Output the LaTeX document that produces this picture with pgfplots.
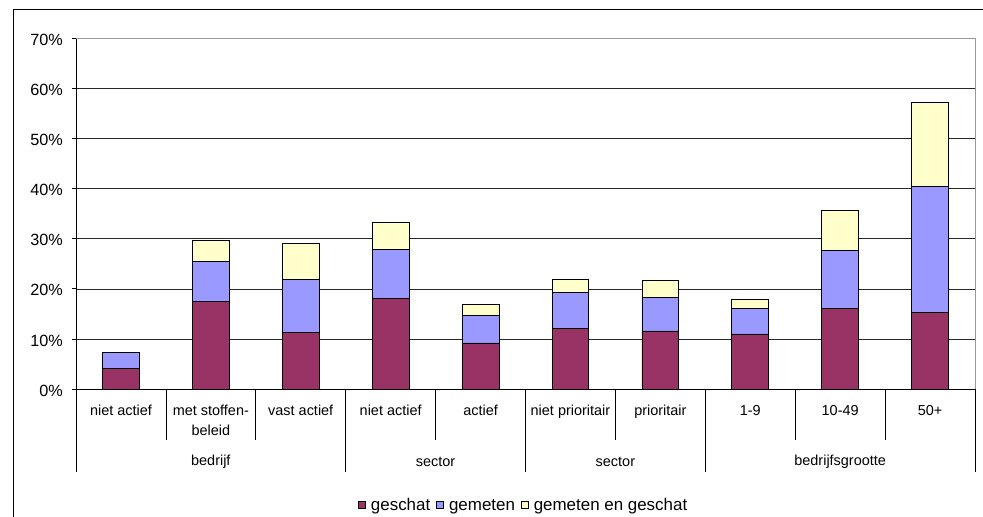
\documentclass[border=0pt]{standalone}
\usepackage{fontspec}
\setmainfont{Liberation Sans}
\usepackage{pgfplots}
\pgfplotsset{compat=1.18}
\definecolor{geschat}{HTML}{993366}
\definecolor{gemeten}{HTML}{9999FF}
\definecolor{beide}{HTML}{FFFFCC}
\begin{document}
\begin{tikzpicture}
\useasboundingbox (0,0) rectangle (983bp,517bp);
\draw[line width=1bp] (13bp,0) -- (13bp,507bp) -- (983bp,507bp);
\begin{axis}[
  at={(76bp,128bp)}, anchor=south west,
  width=899bp, height=350.5bp, scale only axis,
  ybar stacked, bar width=0.41,
  xmin=-0.5, xmax=9.5, ymin=0, ymax=70,
  xtick={0,...,9},
  xticklabels={niet actief,{met stoffen-\\beleid},vast actief,niet actief,actief,niet prioritair,prioritair,1-9,10-49,50+},
  x tick style={draw=none},
  xticklabel style={font=\fontsize{14.5}{20}\selectfont, align=center, anchor=north, inner sep=0pt, yshift=-12bp},
  ytick={0,10,...,70},
  yticklabels={0\%,10\%,20\%,30\%,40\%,50\%,60\%,70\%},
  yticklabel style={font=\fontsize{16.3}{18}\selectfont, anchor=east, inner sep=0pt, xshift=-9bp, yshift=-1.5bp},
  y tick style={black, line width=0.8bp},
  tick align=outside, major tick length=4bp,
  ymajorgrids, grid style={black!85, line width=0.7bp},
  axis lines*=left, axis line style={black, line width=0.9bp},
  clip=false,
  legend style={at={(0.498,-0.331)}, anchor=center, legend columns=-1, draw=none, fill=none,
    font=\fontsize{17}{19}\selectfont,
    /tikz/every even column/.append style={column sep=4bp}},
  legend image code/.code={\path (0bp,0bp) (10bp,0bp);
    \draw[#1, draw=black, line width=0.6bp] (0bp,-3.5bp) rectangle (7bp,3.5bp);},
]
\addplot[fill=geschat, draw=black, line width=0.8bp] coordinates
  {(0,4.1) (1,17.4) (2,11.3) (3,18.0) (4,9.2) (5,12.1) (6,11.6) (7,11.0) (8,16.1) (9,15.3)};
\addplot[fill=gemeten, draw=black, line width=0.8bp] coordinates
  {(0,3.2) (1,8.1) (2,10.5) (3,9.9) (4,5.5) (5,7.1) (6,6.6) (7,5.0) (8,11.6) (9,25.1)};
\addplot[fill=beide, draw=black, line width=0.8bp] coordinates
  {(0,0) (1,4.2) (2,7.3) (3,5.3) (4,2.1) (5,2.6) (6,3.4) (7,1.9) (8,7.9) (9,16.8)};
\legend{\strut geschat,\strut gemeten,\strut gemeten en geschat}
% plot area border (gray) and category separators
\draw[gray!80, line width=0.8bp] (axis cs:-0.5,70) -- (axis cs:9.5,70) -- (axis cs:9.5,0);
\draw[black, line width=0.8bp] (axis cs:-0.5,0) -- ([yshift=-83bp]axis cs:-0.5,0);
\draw[black, line width=0.8bp] (axis cs:2.5,0) -- ([yshift=-83bp]axis cs:2.5,0);
\draw[black, line width=0.8bp] (axis cs:4.5,0) -- ([yshift=-83bp]axis cs:4.5,0);
\draw[black, line width=0.8bp] (axis cs:6.5,0) -- ([yshift=-83bp]axis cs:6.5,0);
\draw[black, line width=0.8bp] (axis cs:9.5,0) -- ([yshift=-83bp]axis cs:9.5,0);
\draw[black, line width=0.8bp] (axis cs:0.5,0) -- ([yshift=-51bp]axis cs:0.5,0);
\draw[black, line width=0.8bp] (axis cs:1.5,0) -- ([yshift=-51bp]axis cs:1.5,0);
\draw[black, line width=0.8bp] (axis cs:3.5,0) -- ([yshift=-51bp]axis cs:3.5,0);
\draw[black, line width=0.8bp] (axis cs:5.5,0) -- ([yshift=-51bp]axis cs:5.5,0);
\draw[black, line width=0.8bp] (axis cs:7.5,0) -- ([yshift=-51bp]axis cs:7.5,0);
\draw[black, line width=0.8bp] (axis cs:8.5,0) -- ([yshift=-51bp]axis cs:8.5,0);
\node[font=\fontsize{14.5}{17}\selectfont] at ([yshift=-73bp]axis cs:1,0) {bedrijf};
\node[font=\fontsize{14.5}{17}\selectfont] at ([yshift=-73bp]axis cs:3.5,0) {sector};
\node[font=\fontsize{14.5}{17}\selectfont] at ([yshift=-73bp]axis cs:5.5,0) {sector};
\node[font=\fontsize{14.5}{17}\selectfont] at ([yshift=-73bp]axis cs:8,0) {bedrijfsgrootte};
\end{axis}
\end{tikzpicture}
\end{document}
